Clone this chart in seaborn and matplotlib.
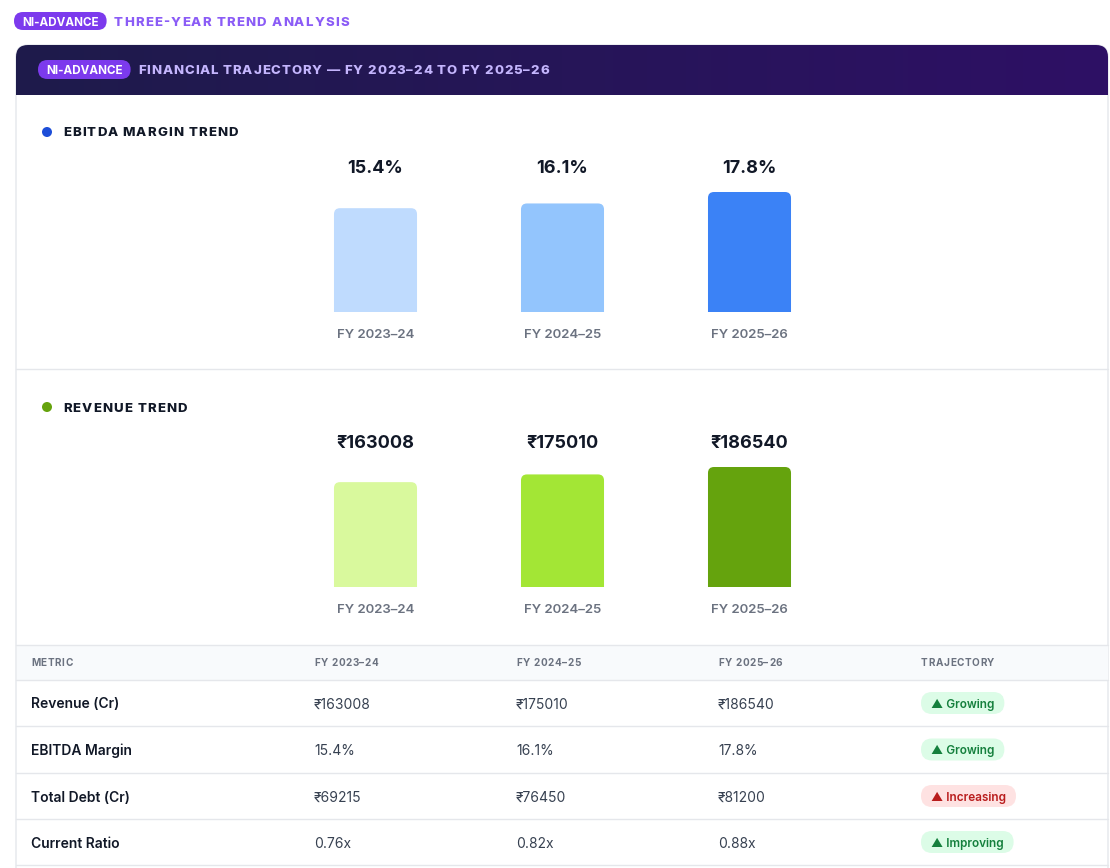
import numpy as np
import seaborn as sns
import matplotlib.pyplot as plt
from matplotlib import transforms
from matplotlib.colors import LinearSegmentedColormap
from matplotlib.font_manager import FontProperties
from matplotlib.patches import FancyBboxPatch, Rectangle, Circle

# --- data ---
years = ["FY 2023–24", "FY 2024–25", "FY 2025–26"]
ebitda_margin = [15.4, 16.1, 17.8]
revenue = [163008, 175010, 186540]
total_debt = [69215, 76450, 81200]
current_ratio = [0.76, 0.82, 0.88]

ebitda_colors = ["#bfdbfe", "#93c5fd", "#3b82f6"]
revenue_colors = ["#d9f99d", "#a3e635", "#65a30d"]

metrics = ["Revenue (Cr)", "EBITDA Margin", "Total Debt (Cr)", "Current Ratio"]
trajectory = ["Growing", "Growing", "Increasing", "Improving"]
trend_good = [True, True, False, True]
table_cols = ["METRIC", "FY 2023–24", "FY 2024–25", "FY 2025–26", "TRAJECTORY"]

sns.set_theme(style="white")
FAMILY = ["Inter", "DejaVu Sans"]
plt.rcParams["font.family"] = FAMILY

W, H = 1110, 868
DY = 1.5  # va="center" sits a touch high for caps
fig = plt.figure(figsize=(W / 100, H / 100), dpi=100, facecolor="white")
bg = fig.add_axes([0, 0, 1, 1])
bg.axis("off")
renderer = fig.canvas.get_renderer()


def fprop(size, weight="normal"):
    return FontProperties(family=FAMILY, size=size, weight=weight)


def text_w(s, fp):
    return renderer.get_text_width_height_descent(s, fp, False)[0]


def advance(ch, fp):
    return text_w("H" + ch + "H", fp) - text_w("HH", fp)


def spaced(x, y, s, size, weight, color, track):
    # letter-spaced text, one glyph at a time
    fp = fprop(size, weight)
    for ch in s:
        if ch != " ":
            bg.text(x, y + DY, ch, fontproperties=fp, color=color, ha="left", va="center", zorder=5)
        x += advance(ch, fp) + track
    return x


def pill(x, y, s, size, weight, fc, tc, padx, h):
    fp = fprop(size, weight)
    w = text_w(s, fp)
    bg.add_patch(FancyBboxPatch((x, y - h / 2), w + 2 * padx, h,
                                boxstyle=f"round,pad=0,rounding_size={h / 2}",
                                fc=fc, ec="none", zorder=4))
    bg.text(x + padx, y + DY, s, fontproperties=fp, color=tc, ha="left", va="center", zorder=5)


# card
bg.add_patch(FancyBboxPatch((16, 45), 1092, 900, boxstyle="round,pad=0,rounding_size=12",
                            fc="white", ec="#e5e7eb", lw=1, zorder=1))
grad = np.linspace(0, 1, 256).reshape(1, -1)
cmap = LinearSegmentedColormap.from_list("hdr", ["#1e1b4b", "#2e1065"])
im = bg.imshow(grad, extent=(16, 1108, 95, 45), aspect="auto", cmap=cmap, zorder=2)
clip = FancyBboxPatch((16, 45), 1092, 80, boxstyle="round,pad=0,rounding_size=12",
                      transform=bg.transData, fc="none", ec="none")
im.set_clip_path(clip)
bg.set_xlim(0, W)
bg.set_ylim(H, 0)

# titles
pill(14, 21, "NI-ADVANCE", 8.4, "bold", "#7c3aed", "white", 8, 18)
spaced(114, 21, "THREE-YEAR TREND ANALYSIS", 9.5, "heavy", "#8b5cf6", 1.2)
pill(38, 69.5, "NI-ADVANCE", 8.4, "bold", "#7c3aed", "white", 8, 19)
spaced(138, 69.5, "FINANCIAL TRAJECTORY — FY 2023–24 TO FY 2025–26", 9.5, "heavy", "#c4b5fd", 0.9)

bg.add_patch(Circle((47, 132), 5, fc="#1d4ed8", ec="none", zorder=3))
spaced(63, 132, "EBITDA MARGIN TREND", 9.5, "heavy", "#111827", 1.1)
bg.plot([16, 1108], [369, 369], color="#e5e7eb", lw=1, zorder=3)
bg.add_patch(Circle((47, 407), 5, fc="#65a30d", ec="none", zorder=3))
spaced(63, 407, "REVENUE TREND", 9.5, "heavy", "#111827", 1.1)


def bar_panel(values, colors, top_px, fmt):
    bar_h = 120
    ax = fig.add_axes([282 / W, 1 - (top_px + bar_h) / H, 561 / W, bar_h / H])
    sns.barplot(x=years, y=values, hue=years, palette=colors, width=0.444,
                saturation=1, legend=False, ax=ax)
    ax.set_xlim(-0.5, 2.5)
    ax.set_ylim(0, max(values))
    ax.set_facecolor("none")
    for s in ax.spines.values():
        s.set_visible(False)
    ax.set_yticks([])
    ax.set_xlabel("")
    ax.set_ylabel("")
    ax.tick_params(axis="x", length=0, pad=12.5, labelsize=9.5, labelcolor="#6b7280")
    for t in ax.get_xticklabels():
        t.set_fontweight("semibold")

    # round the top corners of the bars
    xpx = ax.bbox.width / 3
    ypx = ax.bbox.height / max(values)
    r = 6
    for p in list(ax.patches):
        x0, w, h = p.get_x(), p.get_width(), p.get_height()
        extra = 2 * r / ypx
        rb = FancyBboxPatch((x0, -extra), w, h + extra,
                            boxstyle=f"round,pad=0,rounding_size={r / xpx}",
                            mutation_aspect=xpx / ypx,
                            fc=p.get_facecolor(), ec="none")
        p.remove()
        ax.add_patch(rb)

    trans = transforms.blended_transform_factory(ax.transData, ax.transAxes)
    for i, v in enumerate(values):
        ax.text(i, 1 + 23.5 / bar_h, fmt(v), transform=trans, ha="center", va="center",
                fontsize=13, fontweight="bold", color="#111827")
    return ax


bar_panel(ebitda_margin, ebitda_colors, 192, lambda v: f"{v}%")
bar_panel(revenue, revenue_colors, 467, lambda v: f"₹{v}")

# table
col_x = [31, 314, 516, 718, 921]
bg.add_patch(Rectangle((16.5, 645), 1091, 35, fc="#f8fafc", ec="none", zorder=2))
for yl in [645, 680, 726, 773, 819, 865]:
    bg.plot([16, 1108], [yl, yl], color="#e5e7eb", lw=1, zorder=3)
for x, lab in zip(col_x, table_cols):
    spaced(x, 661, lab, 7.2, "bold", "#6b7280", 0.6)

cells = [
    [f"₹{v}" for v in revenue],
    [f"{v}%" for v in ebitda_margin],
    [f"₹{v}" for v in total_debt],
    [f"{v:.2f}x" for v in current_ratio],
]
row_y = [703, 749.5, 796, 842]
for y, name, vals, traj, good in zip(row_y, metrics, cells, trajectory, trend_good):
    bg.text(col_x[0], y + DY, name, fontproperties=fprop(10, "semibold"), color="#111827",
            ha="left", va="center", zorder=5)
    for x, v in zip(col_x[1:4], vals):
        bg.text(x, y + DY, v, fontproperties=fprop(10), color="#374151",
                ha="left", va="center", zorder=5)
    if good:
        pill(921, y, "▲ " + traj, 8.5, "semibold", "#dcfce7", "#15803d", 10, 22)
    else:
        pill(921, y, "▲ " + traj, 8.5, "semibold", "#fee2e2", "#b91c1c", 10, 22)

fig.savefig("out.png", dpi=100, facecolor="white")
